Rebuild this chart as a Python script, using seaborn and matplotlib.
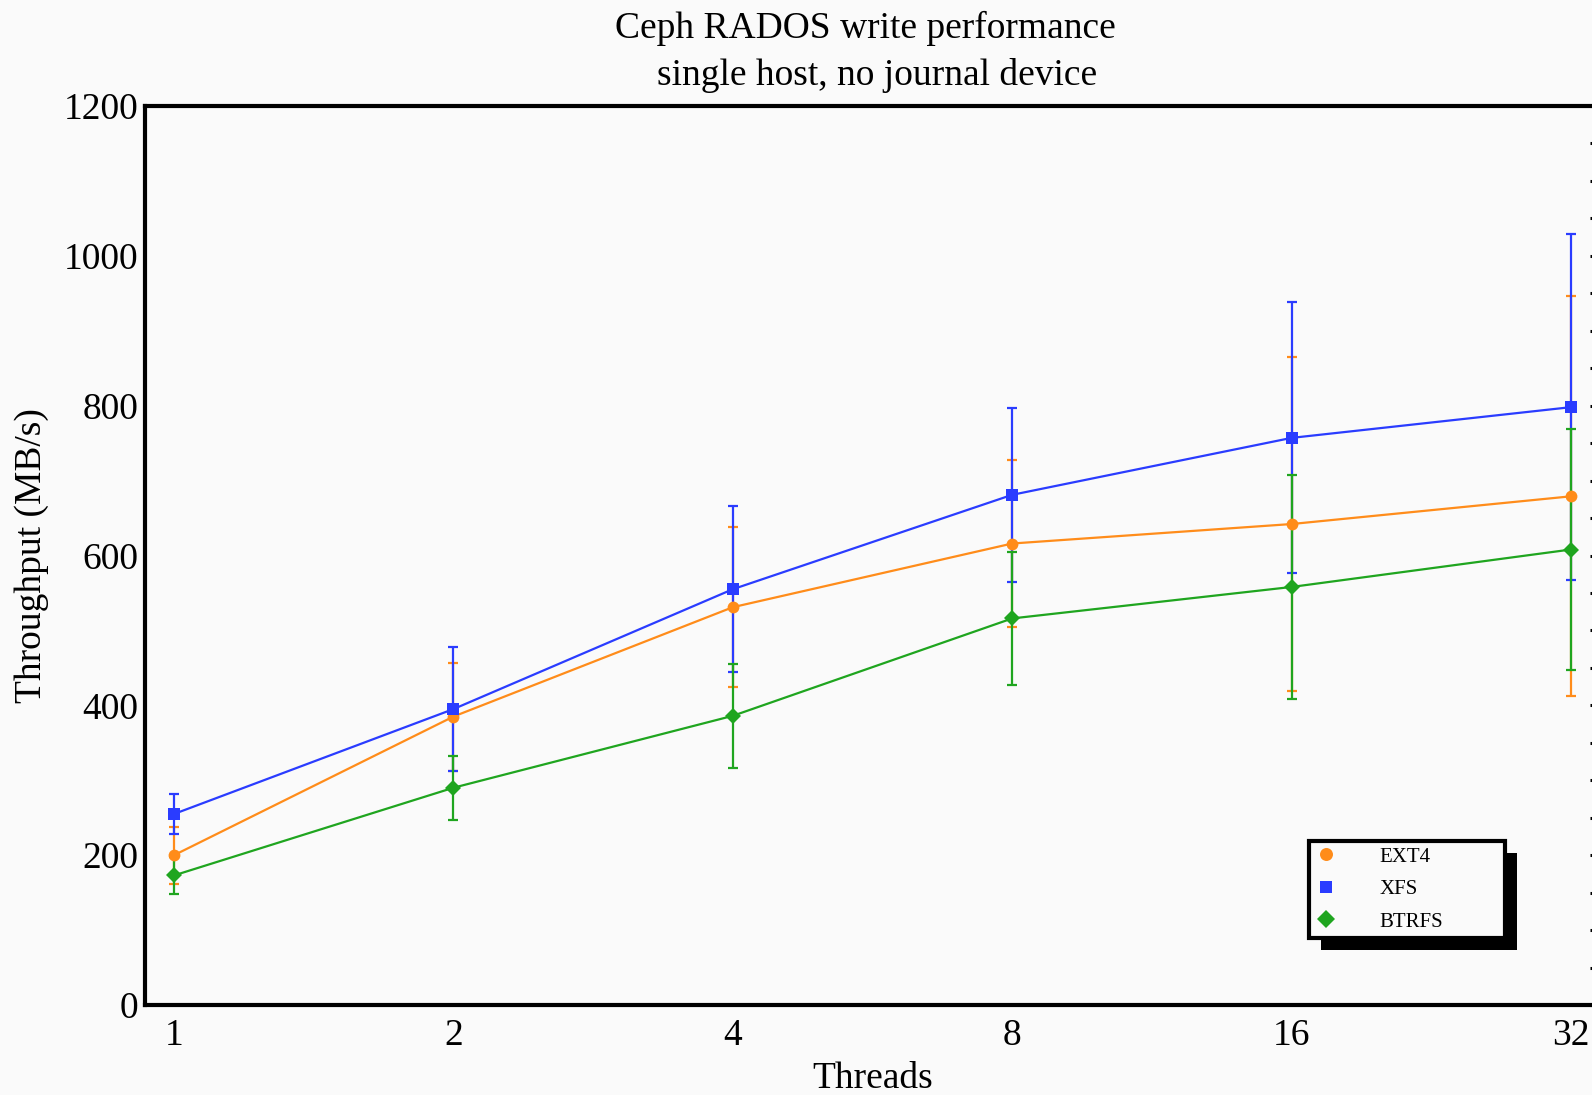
import numpy as np
import pandas as pd
import matplotlib
matplotlib.use("Agg")
import matplotlib.pyplot as plt
from matplotlib.patches import Rectangle
from matplotlib.ticker import FixedLocator, MultipleLocator, FixedFormatter
import seaborn as sns

# values
threads = [1, 2, 4, 8, 16, 32]
ext4 = [200, 385, 531, 616, 642, 679]
xfs = [255, 395, 555, 681, 757, 798]
btrfs = [173, 290, 386, 516, 558, 608]
ext4_err = [38, 72, 107, 112, 223, 267]
xfs_err = [27, 83, 111, 116, 181, 231]
btrfs_err = [25, 43, 69, 89, 149, 161]
series = ["EXT4", "XFS", "BTRFS"]
tick_labels = ["1", "2", "4", "8", "16", "32"]

colors = {"EXT4": "#ff8c1a", "XFS": "#2a3cff", "BTRFS": "#1fa51f"}
markers = {"EXT4": "o", "XFS": "s", "BTRFS": "D"}

df = pd.DataFrame({
    "Threads": threads * 3,
    "Throughput": ext4 + xfs + btrfs,
    "err": ext4_err + xfs_err + btrfs_err,
    "FS": np.repeat(series, len(threads)),
})

sns.set_style("white")
plt.rcParams["font.family"] = ["Liberation Serif", "DejaVu Serif"]
plt.rcParams["text.color"] = "black"
plt.rcParams["axes.labelcolor"] = "black"
plt.rcParams["xtick.color"] = "black"
plt.rcParams["ytick.color"] = "black"

fig = plt.figure(figsize=(15.92, 10.95), dpi=100, facecolor="#fafafa")
ax = fig.add_axes([145 / 1592, 90 / 1095, 1455 / 1592, 899 / 1095])
ax.set_facecolor("#fafafa")

# error bars first, so lines/markers sit on top
for fs in series:
    sub = df[df["FS"] == fs]
    ax.errorbar(sub["Threads"], sub["Throughput"], yerr=sub["err"], fmt="none",
                ecolor=colors[fs], elinewidth=1.6, capsize=3.5, capthick=1.6, zorder=2)

sns.lineplot(data=df, x="Threads", y="Throughput", hue="FS", style="FS",
             palette=colors, markers=markers, dashes=False, linewidth=1.6,
             markersize=8.5, markeredgewidth=0, ax=ax, zorder=3)

ax.set_xscale("log", base=2)
ax.set_xlim(2 ** -0.104, 2 ** 5.104)
ax.set_ylim(0, 1200)
ax.xaxis.set_major_locator(FixedLocator(threads))
ax.xaxis.set_major_formatter(FixedFormatter(tick_labels))
ax.xaxis.set_minor_locator(FixedLocator([]))
ax.yaxis.set_major_locator(MultipleLocator(200))
ax.yaxis.set_minor_locator(MultipleLocator(50))
ax.tick_params(axis="both", which="both", direction="in", top=False, right=True,
               labelsize=27, length=7, width=2.2)
ax.tick_params(axis="x", pad=10)
ax.tick_params(axis="y", pad=5)

for s in ax.spines.values():
    s.set_linewidth(3)
    s.set_color("black")

ax.set_xlabel("Threads", fontsize=27, labelpad=6)
ax.set_ylabel("Throughput (MB/s)", fontsize=27, labelpad=10)
fig.text(0.5433, 0.974, "Ceph RADOS write performance", ha="center", va="center", fontsize=27)
fig.text(0.551, 0.931, "single host, no journal device", ha="center", va="center", fontsize=27)

handles, labels = ax.get_legend_handles_labels()
for h in handles:
    h.set_linestyle("none")
leg = ax.legend(handles, labels, loc="lower left", mode="expand",
                bbox_to_anchor=((1309 - 145) / 1455, (1005 - 938) / 899,
                                196 / 1455, 98 / 899),
                fontsize=15, frameon=True, fancybox=False, edgecolor="black",
                facecolor="#fafafa", framealpha=1, handlelength=1.0,
                handletextpad=2.1, borderpad=0.3, labelspacing=0.62,
                borderaxespad=0, markerscale=1.1)
leg.get_frame().set_linewidth(3)
leg.set_zorder(10)

fig.canvas.draw()
bb = leg.get_window_extent().transformed(fig.transFigure.inverted())
shadow = Rectangle((bb.x0 + 12 / 1592, bb.y0 - 12 / 1095), bb.width, bb.height,
                   transform=fig.transFigure, facecolor="black", edgecolor="none",
                   zorder=9)
ax.add_artist(shadow)

fig.savefig("out.png", dpi=100, facecolor=fig.get_facecolor())
